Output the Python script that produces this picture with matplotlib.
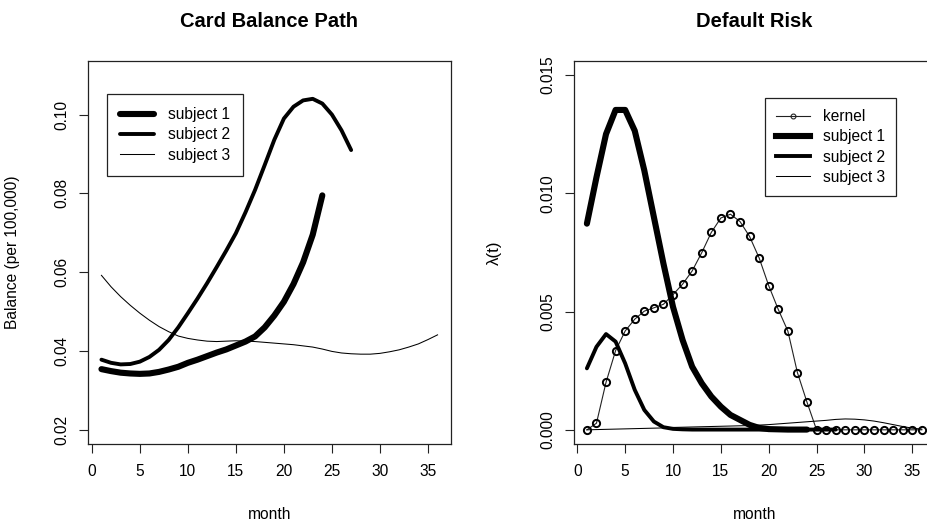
import matplotlib
matplotlib.use("Agg")
import matplotlib.pyplot as plt
from matplotlib.lines import Line2D
from matplotlib.ticker import FormatStrFormatter

plt.rcParams['font.family'] = ['Liberation Sans', 'DejaVu Sans']

# balance paths (left panel)
bal_s1 = [0.0354, 0.0349, 0.0345, 0.0343, 0.0342, 0.0343, 0.0347, 0.0353, 0.0360, 0.0370,
          0.0378, 0.0387, 0.0396, 0.0404, 0.0414, 0.0424, 0.0437, 0.0460, 0.0490, 0.0525,
          0.0570, 0.0625, 0.0695, 0.0795]
bal_s2 = [0.0378, 0.0370, 0.0366, 0.0367, 0.0373, 0.0385, 0.0403, 0.0428, 0.0460, 0.0496,
          0.0533, 0.0572, 0.0613, 0.0655, 0.0699, 0.0752, 0.0809, 0.0872, 0.0936, 0.0990,
          0.1020, 0.1036, 0.1040, 0.1028, 0.1000, 0.0960, 0.0910]
bal_s3 = [0.0592, 0.0563, 0.0538, 0.0516, 0.0496, 0.0478, 0.0462, 0.0449, 0.0438, 0.0432,
          0.0428, 0.0425, 0.0424, 0.0425, 0.0426, 0.0425, 0.0424, 0.0422, 0.0420, 0.0418,
          0.0416, 0.0413, 0.0410, 0.0405, 0.0399, 0.0395, 0.0393, 0.0392, 0.0392, 0.0394,
          0.0398, 0.0403, 0.0410, 0.0418, 0.0429, 0.0441]

# default risk (right panel)
kernel = [0.0, 0.00028, 0.00201, 0.00335, 0.00418, 0.00468, 0.00502, 0.00516, 0.00531, 0.00572,
          0.00616, 0.00672, 0.00749, 0.00835, 0.00896, 0.00912, 0.00881, 0.00818, 0.00727, 0.00610,
          0.00509, 0.00418, 0.00242, 0.00117, 0.0, 0.0, 0.0, 0.0, 0.0, 0.0,
          0.0, 0.0, 0.0, 0.0, 0.0, 0.0]
risk_s1 = [0.00872, 0.01068, 0.01251, 0.01353, 0.01353, 0.01265, 0.01097, 0.00900, 0.00703, 0.00520,
           0.00380, 0.00267, 0.00197, 0.00141, 0.00098, 0.00063, 0.00042, 0.00021, 0.00008, 0.00003,
           0.00002, 0.00001, 0.00001, 0.00001]
risk_s2 = [0.00260, 0.00351, 0.00405, 0.00373, 0.00281, 0.00169, 0.00084, 0.00035, 0.00011, 0.00004,
           0.00002, 0.00001, 0.00001, 0.00001, 0.00001, 0.00001, 0.00001, 0.00001, 0.00001, 0.00001,
           0.00001, 0.00001, 0.00001, 0.00001, 0.00001, 0.00001, 0.00001]
risk_s3 = [0.0, 0.00001, 0.00002, 0.00003, 0.00004, 0.00005, 0.00006, 0.00007, 0.00008, 0.00010,
           0.00011, 0.00012, 0.00013, 0.00014, 0.00015, 0.00016, 0.00017, 0.00018, 0.00020, 0.00022,
           0.00025, 0.00028, 0.00031, 0.00034, 0.00037, 0.00040, 0.00044, 0.00046, 0.00045, 0.00042,
           0.00037, 0.00030, 0.00022, 0.00014, 0.00007, 0.00003]

month_ticks = [0, 5, 10, 15, 20, 25, 30, 35]
bal_ticks = [0.02, 0.04, 0.06, 0.08, 0.10]
risk_ticks = [0.0, 0.005, 0.010, 0.015]

LW1, LW2, LW3 = 4.4, 2.8, 0.75
FS = 11.2


def months(vals):
    return list(range(1, len(vals) + 1))


def style_axes(ax):
    for s in ax.spines.values():
        s.set_linewidth(0.9)
        s.set_color('#222222')
    ax.tick_params(direction='out', length=6.8, width=0.8, labelsize=FS, color='#222222')
    ax.tick_params(axis='x', pad=7.5)
    ax.tick_params(axis='y', pad=6.5, labelrotation=90)
    for lab in ax.get_yticklabels():
        lab.set_va('center')
    ax.set_xlim(-0.4, 37.4)
    ax.set_xticks(month_ticks)
    ax.set_xlabel('month', fontsize=FS)
    ax.xaxis.set_label_coords(0.5, -0.183)
    ax.xaxis.label.set_va('center')


def r_legend(ax, handles, labels, anchor, pad):
    leg = ax.legend(handles, labels, loc='upper left', bbox_to_anchor=anchor, borderaxespad=0,
                    fontsize=FS, handlelength=2.2, handletextpad=0.85, labelspacing=0.34,
                    borderpad=pad, fancybox=False, framealpha=1, edgecolor='#222222')
    leg.get_frame().set_linewidth(0.9)
    return leg


fig = plt.figure(figsize=(9.27, 5.21), dpi=100)
ax1 = fig.add_axes([88 / 927, 77 / 521, 363 / 927, 383 / 521])
ax2 = fig.add_axes([573.5 / 927, 77 / 521, 361.7 / 927, 383 / 521])

# left: card balance path
l1, = ax1.plot(months(bal_s1), bal_s1, color='black', lw=LW1, solid_capstyle='round')
l2, = ax1.plot(months(bal_s2), bal_s2, color='black', lw=LW2, solid_capstyle='round')
l3, = ax1.plot(months(bal_s3), bal_s3, color='black', lw=LW3)
ax1.set_ylim(0.0164, 0.1136)
ax1.set_yticks(bal_ticks)
ax1.yaxis.set_major_formatter(FormatStrFormatter('%.2f'))
style_axes(ax1)
ax1.set_ylabel('Balance (per 100,000)', fontsize=FS)
ax1.yaxis.set_label_coords(-0.187, 0.5)
ax1.set_title('Card Balance Path', fontsize=14.5, fontweight='bold', y=1.102, va='center', pad=0)
r_legend(ax1, [l1, l2, l3], ['subject 1', 'subject 2', 'subject 3'], (0.052, 0.914), 0.85)

# right: default risk
ax2.plot(months(kernel), kernel, color='#222222', lw=0.8, marker='o', ms=5.2,
         mfc='none', mec='black', mew=1.4)
ax2.plot(months(risk_s1), risk_s1, color='black', lw=LW1, solid_capstyle='round')
ax2.plot(months(risk_s2), risk_s2, color='black', lw=LW2, solid_capstyle='round')
ax2.plot(months(risk_s3), risk_s3, color='black', lw=LW3)
ax2.set_ylim(-0.0006, 0.0156)
ax2.set_yticks(risk_ticks)
ax2.yaxis.set_major_formatter(FormatStrFormatter('%.3f'))
style_axes(ax2)
ax2.set_ylabel('λ(t)', fontsize=FS + 1)
ax2.yaxis.set_label_coords(-0.198, 0.5)
ax2.set_title('Default Risk', fontsize=14.5, fontweight='bold', y=1.102, va='center', pad=0)
handles = [
    Line2D([], [], color='#222222', lw=0.8, marker='o', ms=3.5, mfc='none', mew=0.8),
    Line2D([], [], color='black', lw=LW1),
    Line2D([], [], color='black', lw=LW2),
    Line2D([], [], color='black', lw=LW3),
]
r_legend(ax2, handles, ['kernel', 'subject 1', 'subject 2', 'subject 3'], (0.529, 0.903), 0.7)

fig.savefig('out.png', dpi=100)
